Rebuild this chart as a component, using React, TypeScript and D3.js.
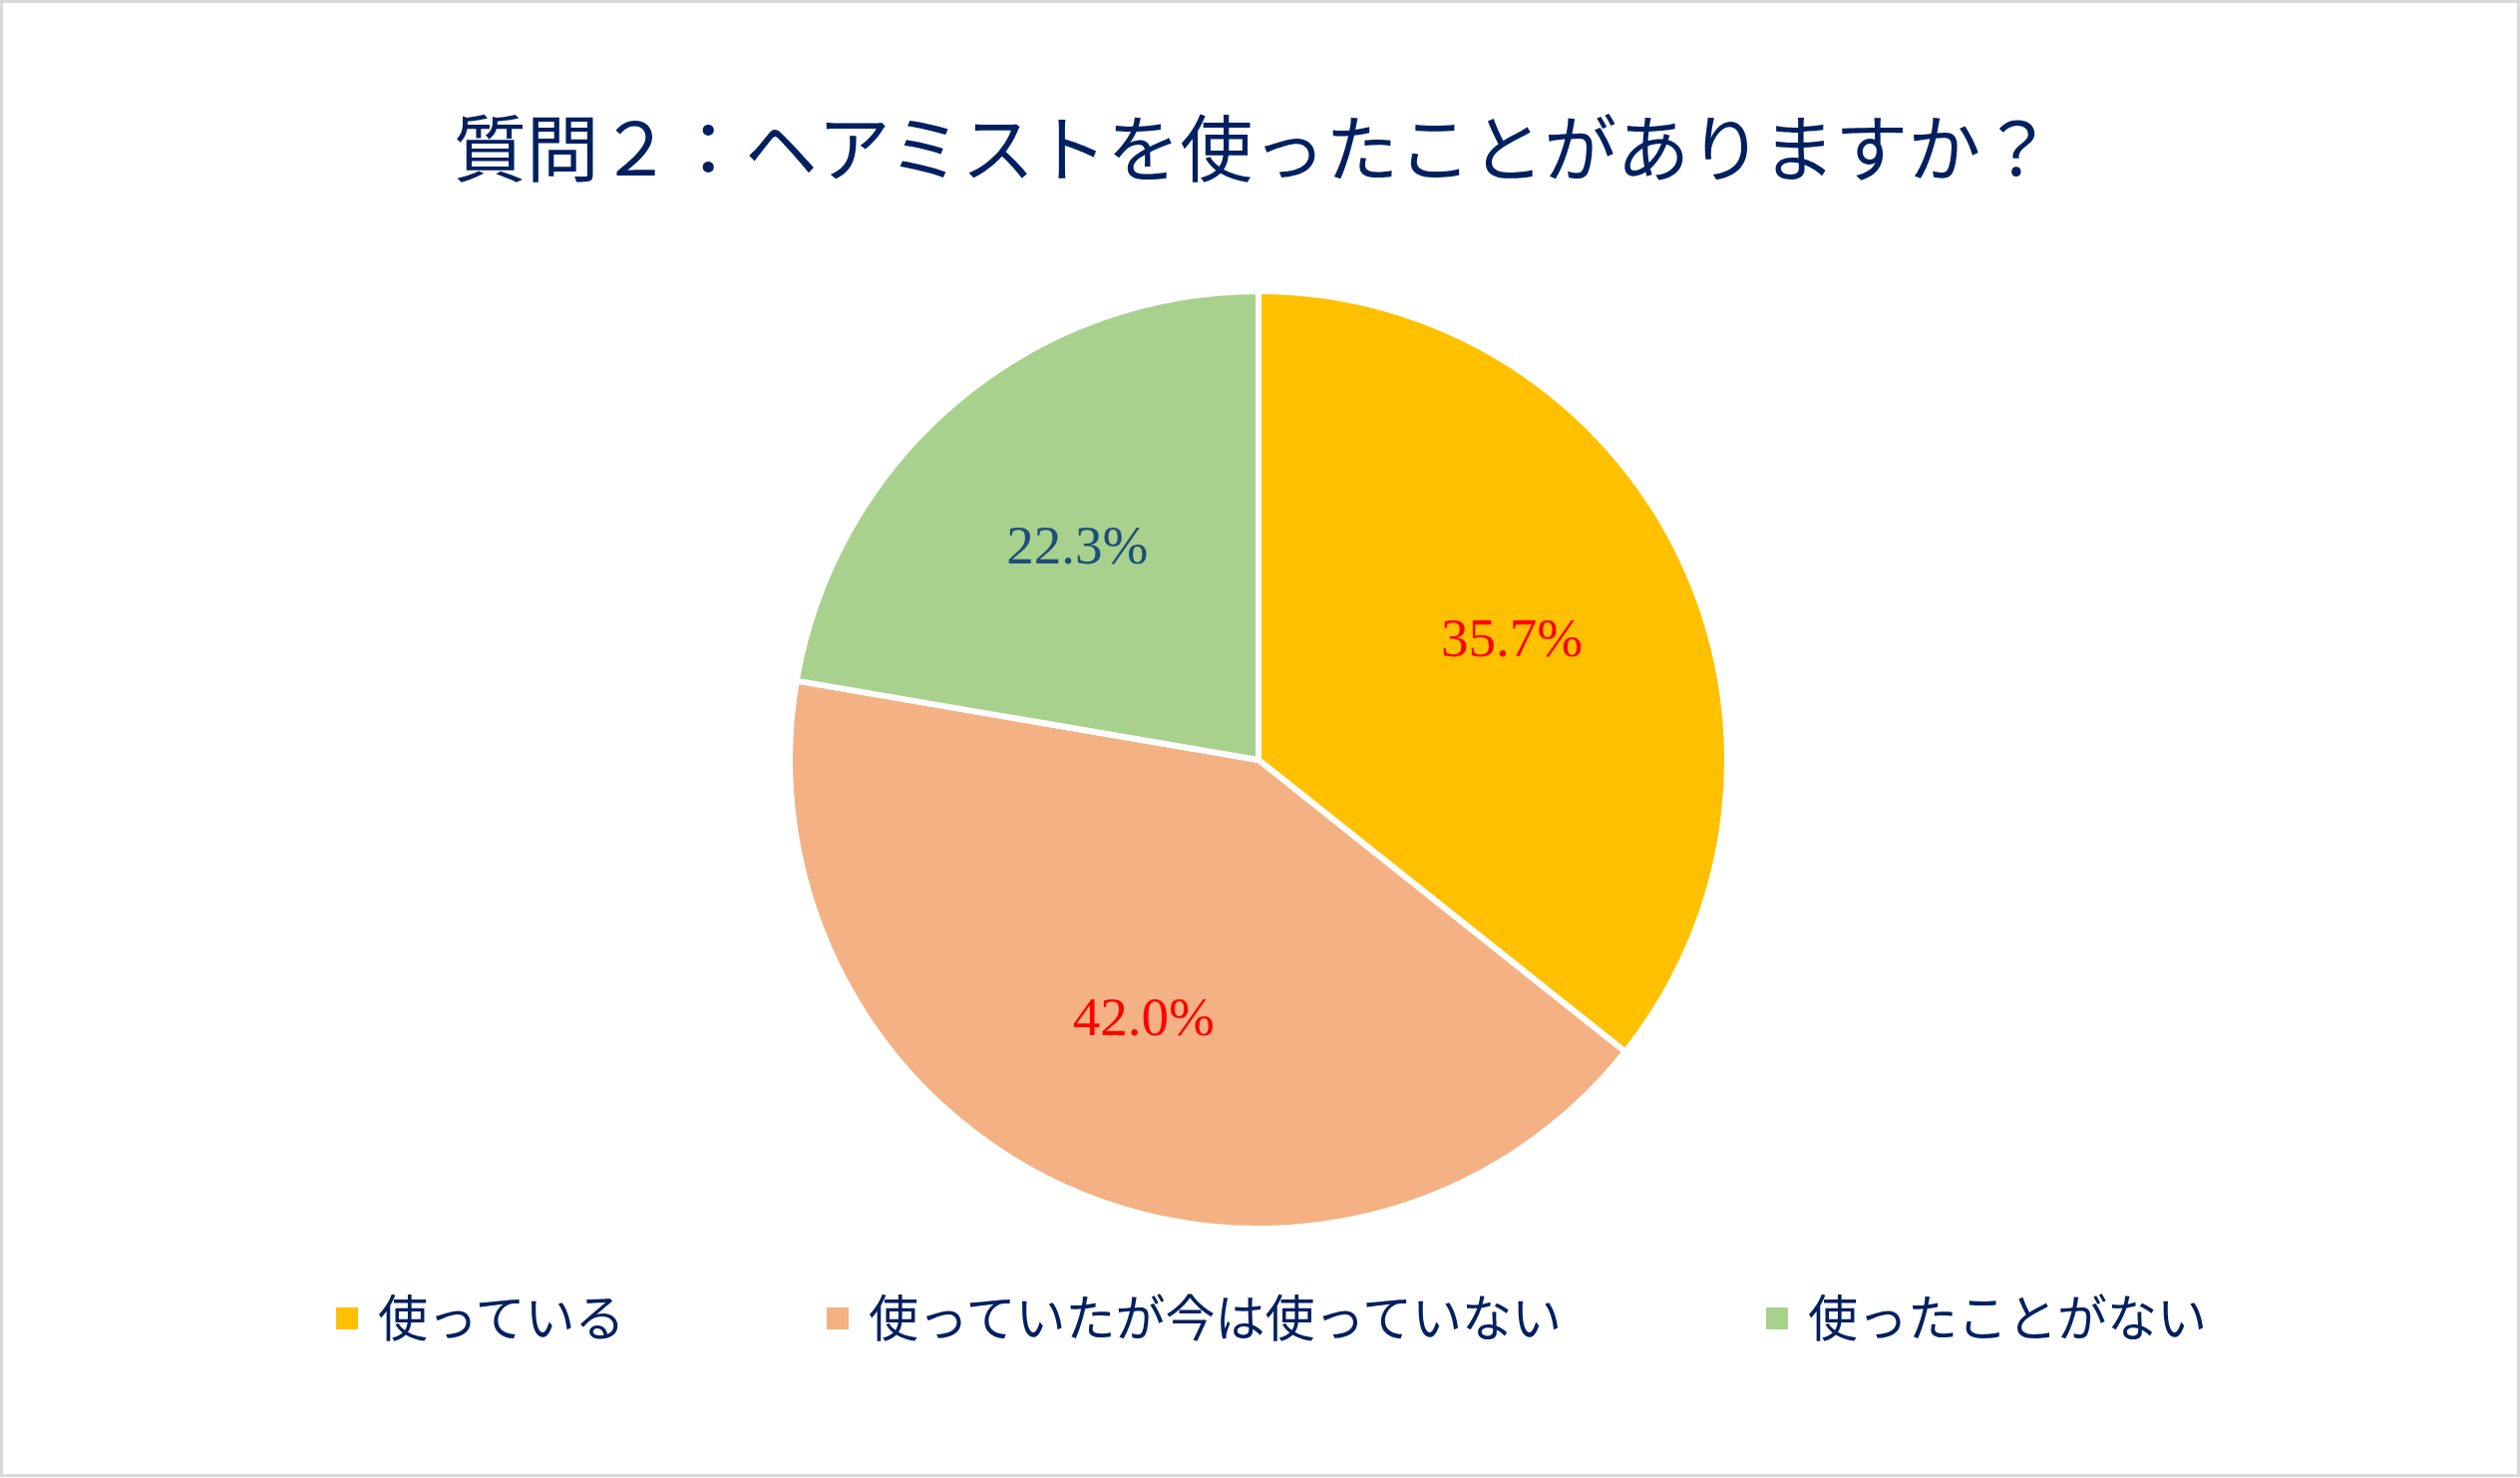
import React from "react";
import * as d3 from "d3";

const categories = ["使っている", "使っていたが今は使っていない", "使ったことがない"];
const values = [35.7, 42.0, 22.3];
const labels = ["35.7%", "42.0%", "22.3%"];
const colors = ["#FFC000", "#F4B183", "#A9D18E"];
const labelColors = ["#FF0000", "#FF0000", "#1F4E79"];
const title = "質問２：ヘアミストを使ったことがありますか？";

const W = 2527;
const H = 1482;
const cx = 1262;
const cy = 762;
const R = 470;
const CJK = "'Noto Sans CJK JP', 'Noto Sans', sans-serif";
const NUM = "'Liberation Serif', 'DejaVu Serif', serif";
const NAVY = "#002060";

export default function App() {
  const pie = d3
    .pie<number>()
    .sort(null)
    .value((d) => d)
    .startAngle(0)
    .endAngle(2 * Math.PI);
  const arcs = pie(values);
  const arc = d3.arc<d3.PieArcDatum<number>>().innerRadius(0).outerRadius(R);
  const labelArc = d3
    .arc<d3.PieArcDatum<number>>()
    .innerRadius(R * 0.6)
    .outerRadius(R * 0.6);

  // legend layout
  const legendFont = 50;
  const sq = 22;
  const sqGap = 20;
  const itemGap = 200;
  const legendStart = 337;
  const legendY = 1322;
  let acc = legendStart;
  const legendItems = categories.map((c, i) => {
    const x = acc;
    const textW = [...c].length * legendFont;
    acc += sq + sqGap + textW + itemGap;
    return { c, i, x, textW };
  });

  return (
    <svg
      width={W}
      height={H}
      viewBox={`0 0 ${W} ${H}`}
      style={{ position: "absolute", left: 0, top: 0, background: "#fff" }}
    >
      <rect x={0} y={0} width={W} height={H} fill="#ffffff" />
      <rect
        x={1.5}
        y={1.5}
        width={W - 3}
        height={H - 4}
        fill="none"
        stroke="#D9D9D9"
        strokeWidth={3}
      />
      <text
        x={1257}
        y={144}
        textAnchor="middle"
        dominantBaseline="central"
        fontFamily={CJK}
        fontSize={73}
        fill={NAVY}
      >
        {title}
      </text>
      <g transform={`translate(${cx},${cy})`}>
        {arcs.map((a, i) => (
          <path
            key={i}
            d={arc(a) || ""}
            fill={colors[i]}
            stroke="#ffffff"
            strokeWidth={6}
            strokeLinejoin="miter"
          />
        ))}
        {arcs.map((a, i) => {
          const [lx, ly] = labelArc.centroid(a);
          return (
            <text
              key={"l" + i}
              x={lx}
              y={ly}
              textAnchor="middle"
              dominantBaseline="central"
              fontFamily={NUM}
              fontSize={55}
              fill={labelColors[i]}
            >
              {labels[i]}
            </text>
          );
        })}
      </g>
      {legendItems.map(({ c, i, x }) => (
        <g key={"lg" + i}>
          <rect
            x={x}
            y={legendY - sq / 2}
            width={sq}
            height={sq}
            fill={colors[i]}
          />
          <text
            x={x + sq + sqGap}
            y={legendY - 4}
            dominantBaseline="central"
            fontFamily={CJK}
            fontSize={legendFont}
            fill={NAVY}
          >
            {c}
          </text>
        </g>
      ))}
    </svg>
  );
}
